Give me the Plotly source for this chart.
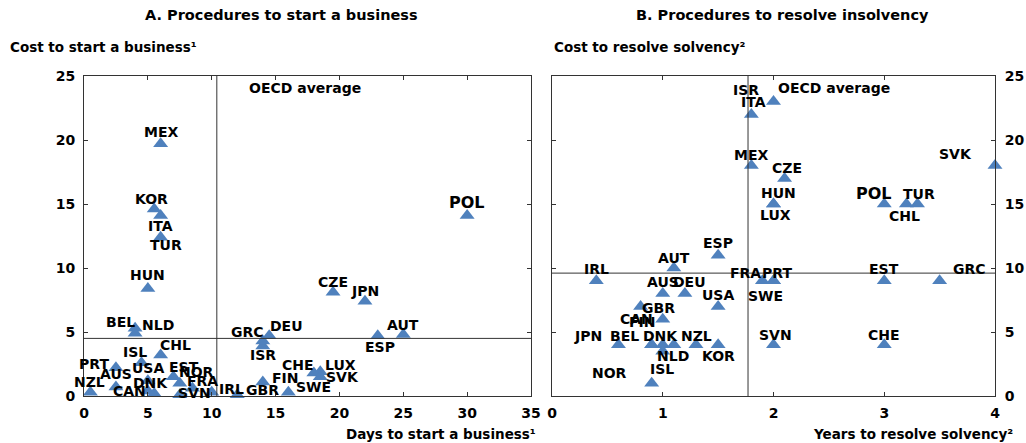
import plotly.graph_objects as go

# ---- Panel A: procedures to start a business ----
start_codes = ["MEX", "KOR", "ITA", "TUR", "HUN", "BEL", "NLD", "PRT", "AUS", "NZL",
               "CAN", "ISL", "USA", "CHL", "DNK", "EST", "NOR", "FRA", "SVN", "IRL",
               "GBR", "FIN", "ISR", "GRC", "DEU", "SWE", "CHE", "LUX", "SVK", "CZE",
               "JPN", "ESP", "AUT", "POL"]
start_days = [6.0, 5.5, 6.0, 6.0, 5.0, 4.0, 4.0, 2.5, 2.5, 0.5,
              5.0, 4.5, 5.0, 6.0, 5.5, 7.0, 7.5, 8.5, 7.5, 10.0,
              12.0, 14.0, 14.0, 14.0, 14.5, 16.0, 18.0, 18.5, 18.5, 19.5,
              22.0, 23.0, 25.0, 30.0]
start_cost = [19.7, 14.6, 14.1, 12.4, 8.4, 5.3, 4.9, 2.2, 0.7, 0.3,
              0.4, 2.6, 1.2, 3.2, 0.2, 1.5, 1.0, 0.6, 0.1, 0.3,
              0.1, 1.1, 3.9, 4.3, 4.7, 0.3, 1.8, 1.9, 1.5, 8.1,
              7.4, 4.7, 4.8, 14.1]
start_oecd_days = 10.4
start_oecd_cost = 4.5

# ---- Panel B: procedures to resolve insolvency ----
insolv_codes = ["ISR", "ITA", "MEX", "CZE", "HUN", "LUX", "POL", "CHL", "TUR", "SVK",
                "ESP", "FRA", "PRT", "SWE", "EST", "GRC", "SVN", "CHE", "IRL", "AUT",
                "AUS", "DEU", "USA", "CAN", "GBR", "JPN", "BEL", "FIN", "DNK", "NLD",
                "NZL", "KOR", "ISL", "NOR"]
insolv_years = [2.0, 1.8, 1.8, 2.1, 2.0, 2.0, 3.0, 3.2, 3.3, 4.0,
                1.5, 1.9, 2.0, 2.0, 3.0, 3.5, 2.0, 3.0, 0.4, 1.1,
                1.0, 1.2, 1.5, 0.8, 1.0, 0.6, 0.9, 0.9, 1.0, 1.1,
                1.3, 1.5, 1.0, 0.9]
insolv_cost = [23, 22, 18, 17, 15, 15, 15, 15, 15, 18,
               11, 9, 9, 9, 9, 9, 4, 4, 9, 10,
               8, 8, 7, 7, 6, 4, 4, 4, 4, 4,
               4, 4, 3.5, 1]
insolv_oecd_years = 1.77
insolv_oecd_cost = 9.6

x_ticks_a = [0, 5, 10, 15, 20, 25, 30, 35]
x_ticks_b = [0, 1, 2, 3, 4]
y_ticks = [0, 5, 10, 15, 20, 25]

# Label placement around each marker, in pixels (dx right, dy up)
label_offsets_a = {
    "MEX": (0, 12), "KOR": (-3, 10), "ITA": (0, -10), "TUR": (5, -8), "HUN": (0, 13),
    "BEL": (-15, 6), "NLD": (23, 8), "PRT": (-22, 4), "AUS": (0, 13), "NZL": (-1, 10),
    "CAN": (-18, 0), "ISL": (-6, 11), "USA": (0, 13), "CHL": (15, 10), "DNK": (-4, 10),
    "EST": (11, 10), "NOR": (17, 11), "FRA": (10, 7), "SVN": (15, 2), "IRL": (20, 3),
    "GBR": (25, 5), "FIN": (23, 4), "ISR": (0, -9), "GRC": (-15, 9), "DEU": (17, 10),
    "SWE": (25, 5), "CHE": (-16, 8), "LUX": (20, 7), "SVK": (22, 0), "CZE": (0, 10),
    "JPN": (0, 10), "ESP": (2, -11), "AUT": (0, 10), "POL": (0, 13),
}
label_offsets_b = {
    "ISR": (-28, 12), "ITA": (2, 12), "MEX": (0, 11), "CZE": (2, 10), "HUN": (5, 11),
    "LUX": (2, -11), "POL": (-10, 11), "CHL": (-2, -12), "TUR": (2, 10), "SVK": (-40, 12),
    "ESP": (0, 12), "FRA": (-17, 8), "PRT": (3, 8), "SWE": (-8, -15), "EST": (0, 12),
    "GRC": (30, 12), "SVN": (2, 10), "CHE": (0, 10), "IRL": (0, 12), "AUT": (0, 10),
    "AUS": (0, 12), "DEU": (5, 12), "USA": (0, 11), "CAN": (-4, -13), "GBR": (-4, 11),
    "JPN": (-30, 9), "BEL": (-27, 9), "FIN": (-9, 23), "DNK": (-2, 9), "NLD": (-1, -11),
    "NZL": (1, 9), "KOR": (0, -11), "ISL": (-1, -18), "NOR": (-42, 10),
}

FONT = "DejaVu Sans"
BLUE = "#4f81bd"
W, H = 1026, 443

marker = dict(symbol="triangle-up", size=13, color=BLUE, line=dict(width=0))

fig = go.Figure()
fig.add_trace(go.Scatter(x=start_days, y=start_cost, mode="markers", marker=marker,
                         xaxis="x", yaxis="y", hoverinfo="text", text=start_codes,
                         cliponaxis=False, showlegend=False))
fig.add_trace(go.Scatter(x=insolv_years, y=insolv_cost, mode="markers", marker=marker,
                         xaxis="x2", yaxis="y2", hoverinfo="text", text=insolv_codes,
                         cliponaxis=False, showlegend=False))

annotations = []


def add_labels(codes, xs, ys, offsets, xref, yref):
    for code, xv, yv in zip(codes, xs, ys):
        dx, dy = offsets.get(code, (0, 11))
        size = 16 if code == "POL" else 14
        annotations.append(dict(
            x=xv, y=yv, xref=xref, yref=yref, text=code, showarrow=False,
            xshift=dx, yshift=dy, xanchor="center", yanchor="middle",
            font=dict(family=FONT, size=size, color="black", weight="bold")))


add_labels(start_codes, start_days, start_cost, label_offsets_a, "x", "y")
add_labels(insolv_codes, insolv_years, insolv_cost, label_offsets_b, "x2", "y2")

# OECD average captions
annotations.append(dict(x=12.8, y=24.06, xref="x", yref="y", text="OECD average",
                        showarrow=False, xanchor="left", yanchor="middle",
                        font=dict(family=FONT, size=14, color="black", weight="bold")))
annotations.append(dict(x=2.02, y=24.06, xref="x2", yref="y2", text="OECD average",
                        showarrow=False, xanchor="left", yanchor="middle",
                        font=dict(family=FONT, size=14, color="black", weight="bold")))


# Panel titles and axis titles (paper coordinates from pixel positions)
def px(x):
    return x / W


def py(y):
    return 1 - y / H


text_items = [
    ("A. Procedures to start a business", 281, 15, "center", 14.5),
    ("B. Procedures to resolve insolvency", 782, 15, "center", 14.5),
    ("Cost to start a business\u00b9", 8, 47, "left", 13.5),
    ("Cost to resolve solvency\u00b2", 552, 47, "left", 13.5),
    ("Days to start a business\u00b9", 538, 434, "right", 13.5),
    ("Years to resolve solvency\u00b2", 1015, 434, "right", 13.5),
]
for txt, x, y, anchor, size in text_items:
    annotations.append(dict(x=px(x), y=py(y), xref="paper", yref="paper", text=txt,
                            showarrow=False, xanchor=anchor, yanchor="middle",
                            font=dict(family=FONT, size=size, color="black", weight="bold")))

# OECD average reference lines
line_style = dict(color="#333333", width=1)
shapes = [
    dict(type="line", xref="x", yref="y", x0=start_oecd_days, x1=start_oecd_days,
         y0=0, y1=25, line=line_style),
    dict(type="line", xref="x", yref="y", x0=0, x1=35,
         y0=start_oecd_cost, y1=start_oecd_cost, line=line_style),
    dict(type="line", xref="x2", yref="y2", x0=insolv_oecd_years, x1=insolv_oecd_years,
         y0=0, y1=25, line=line_style),
    dict(type="line", xref="x2", yref="y2", x0=0, x1=4,
         y0=insolv_oecd_cost, y1=insolv_oecd_cost, line=line_style),
]

tick_font = dict(family=FONT, size=14, color="black", weight="bold")
axis_common = dict(showline=True, mirror="ticks", linecolor="#333333", linewidth=1,
                   ticks="inside", ticklen=4, tickcolor="#333333", showgrid=False,
                   zeroline=False, tickfont=tick_font, automargin=False, fixedrange=True)

y_dom = [py(396), py(76)]

fig.update_layout(
    width=W, height=H, autosize=False,
    margin=dict(l=0, r=0, t=0, b=0),
    paper_bgcolor="white", plot_bgcolor="white",
    xaxis=dict(domain=[px(84), px(531)], range=[0, 35], tickvals=x_ticks_a,
               anchor="y", ticklabelstandoff=4, **axis_common),
    yaxis=dict(domain=y_dom, range=[0, 25], tickvals=y_ticks, anchor="x",
               ticklabelstandoff=5, **axis_common),
    xaxis2=dict(domain=[px(552), px(995)], range=[0, 4], tickvals=x_ticks_b,
                anchor="y2", ticklabelstandoff=4, **axis_common),
    yaxis2=dict(domain=y_dom, range=[0, 25], tickvals=y_ticks, anchor="x2",
                side="right", ticklabelstandoff=6, **axis_common),
    annotations=annotations,
    shapes=shapes,
    showlegend=False,
)

fig.write_html("out.html")
